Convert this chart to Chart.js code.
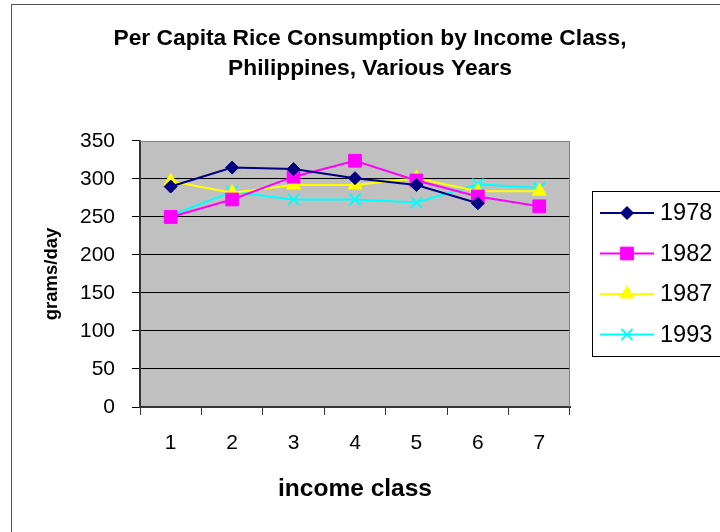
<!DOCTYPE html>
<html>
<head>
<meta charset="utf-8">
<title>Per Capita Rice Consumption by Income Class</title>
<script src="https://cdn.jsdelivr.net/npm/chart.js@4.4.1/dist/chart.umd.min.js"></script>
<style>
  html, body { margin: 0; padding: 0; background: #fff; overflow: hidden; }
  #wrap { width: 720px; height: 532px; overflow: hidden; position: relative; }
  #chart { position: absolute; left: 0; top: 0; }
</style>
</head>
<body>
<div id="wrap"><canvas id="chart" width="740" height="532"></canvas></div>
<script>
// values (grams/day)
const incomeClasses = ["1", "2", "3", "4", "5", "6", "7"];
const rice1978 = [290, 315, 313, 301, 292, 268, null];
const rice1982 = [250, 273, 303, 324, 298, 277, 264];
const rice1987 = [297, 282, 292, 292, 301, 284, 284];
const rice1993 = [252, 283, 273, 273, 269, 293, 288];
const yTicks = [0, 50, 100, 150, 200, 250, 300, 350];

const fontFamily = "'Liberation Sans', Arial, sans-serif";
Chart.defaults.font.family = fontFamily;
Chart.defaults.color = "#000";

function series(label, data, color, style, radius) {
  return {
    label: label,
    data: data,
    borderColor: color,
    backgroundColor: color,
    borderWidth: 2,
    pointStyle: style,
    pointRadius: radius,
    pointHoverRadius: radius,
    pointBorderWidth: style === "crossRot" ? 2 : 1,
    pointBackgroundColor: color,
    pointBorderColor: color,
    tension: 0,
  };
}

// grey plot area + outer chart frame
const plotBackground = {
  id: "plotBackground",
  beforeDraw(chart) {
    const { ctx, chartArea: a } = chart;
    ctx.save();
    ctx.fillStyle = "#fff";
    ctx.fillRect(0, 0, chart.width, chart.height);
    ctx.strokeStyle = "#555";
    ctx.lineWidth = 1;
    ctx.strokeRect(11.5, 4.5, 718, 560);
    ctx.fillStyle = "#c0c0c0";
    ctx.fillRect(a.left, a.top, a.right - a.left, a.bottom - a.top);
    ctx.restore();
  },
  beforeDatasetsDraw(chart) {
    const { ctx, chartArea: a } = chart;
    ctx.save();
    ctx.strokeStyle = "#808080";
    ctx.lineWidth = 1;
    ctx.beginPath();
    ctx.moveTo(a.left, a.top + 0.5);
    ctx.lineTo(a.right - 0.5, a.top + 0.5);
    ctx.lineTo(a.right - 0.5, a.bottom);
    ctx.stroke();
    ctx.restore();
  },
};

// boxed legend on the right, like the spreadsheet one
const boxLegend = {
  id: "boxLegend",
  afterDraw(chart) {
    const ctx = chart.ctx;
    const left = 592, top = 191;
    ctx.save();
    ctx.strokeStyle = "#000";
    ctx.lineWidth = 1;
    ctx.strokeRect(left + 0.5, top + 0.5, 135, 165);
    chart.data.datasets.forEach((ds, i) => {
      const y = 213 + i * 40.5;
      ctx.strokeStyle = ds.borderColor;
      ctx.lineWidth = 2;
      ctx.beginPath();
      ctx.moveTo(600, y);
      ctx.lineTo(654, y);
      ctx.stroke();
      ctx.fillStyle = ds.pointBackgroundColor;
      ctx.strokeStyle = ds.pointBorderColor;
      ctx.lineWidth = ds.pointBorderWidth;
      Chart.helpers.drawPoint(ctx, {
        pointStyle: ds.pointStyle,
        radius: ds.pointRadius,
        borderWidth: ds.pointBorderWidth,
        rotation: 0,
      }, 627, y);
      ctx.fillStyle = "#000";
      ctx.font = "23.5px " + fontFamily;
      ctx.textBaseline = "middle";
      ctx.textAlign = "left";
      ctx.fillText(ds.label, 660, y + 1);
    });
    ctx.restore();
  },
};

new Chart(document.getElementById("chart"), {
  type: "line",
  data: {
    labels: incomeClasses,
    datasets: [
      series("1978", rice1978, "#000080", "rectRot", 6.5),
      series("1982", rice1982, "#ff00ff", "rect", 9),
      series("1987", rice1987, "#ffff00", "triangle", 8),
      series("1993", rice1993, "#00ffff", "crossRot", 8),
    ],
  },
  options: {
    responsive: false,
    animation: false,
    layout: { padding: 0 },
    plugins: {
      legend: { display: false },
      tooltip: { enabled: false },
      title: {
        display: true,
        text: ["Per Capita Rice Consumption by Income Class,", "Philippines, Various Years"],
        color: "#000",
        font: { size: 22.8, weight: "bold", lineHeight: 1.35 },
        padding: { top: 23, bottom: 56.4 },
      },
    },
    scales: {
      x: {
        offset: true,
        ticks: { color: "#000", font: { size: 21 }, padding: 16, maxRotation: 0 },
        grid: { offset: true, drawOnChartArea: false, color: "#333", tickLength: 8 },
        border: { color: "#333", width: 2 },
        title: {
          display: true,
          text: "income class",
          color: "#000",
          font: { size: 24.5, weight: "bold" },
          padding: { top: 0, bottom: 28 },
        },
        afterFit(scale) { scale.height = 125; },
      },
      y: {
        min: 0,
        max: 350,
        afterBuildTicks(scale) { scale.ticks = yTicks.map((v) => ({ value: v })); },
        ticks: { color: "#000", font: { size: 21 }, padding: 17 },
        grid: {
          color: (c) => (c.tick && c.tick.value === 350 ? "rgba(0,0,0,0)" : "#000"),
          tickColor: "#000",
          tickLength: 8,
        },
        border: { color: "#333", width: 2 },
        title: {
          display: true,
          text: "grams/day",
          color: "#000",
          font: { size: 18.5, weight: "bold" },
          padding: { top: 41, bottom: 0 },
        },
        afterFit(scale) { scale.width = 140; },
      },
      y2: {
        position: "right",
        display: true,
        grid: { display: false, drawTicks: false },
        ticks: { display: false },
        border: { display: false },
        afterFit(scale) { scale.width = 170; },
      },
    },
  },
  plugins: [plotBackground, boxLegend],
});
</script>
</body>
</html>
